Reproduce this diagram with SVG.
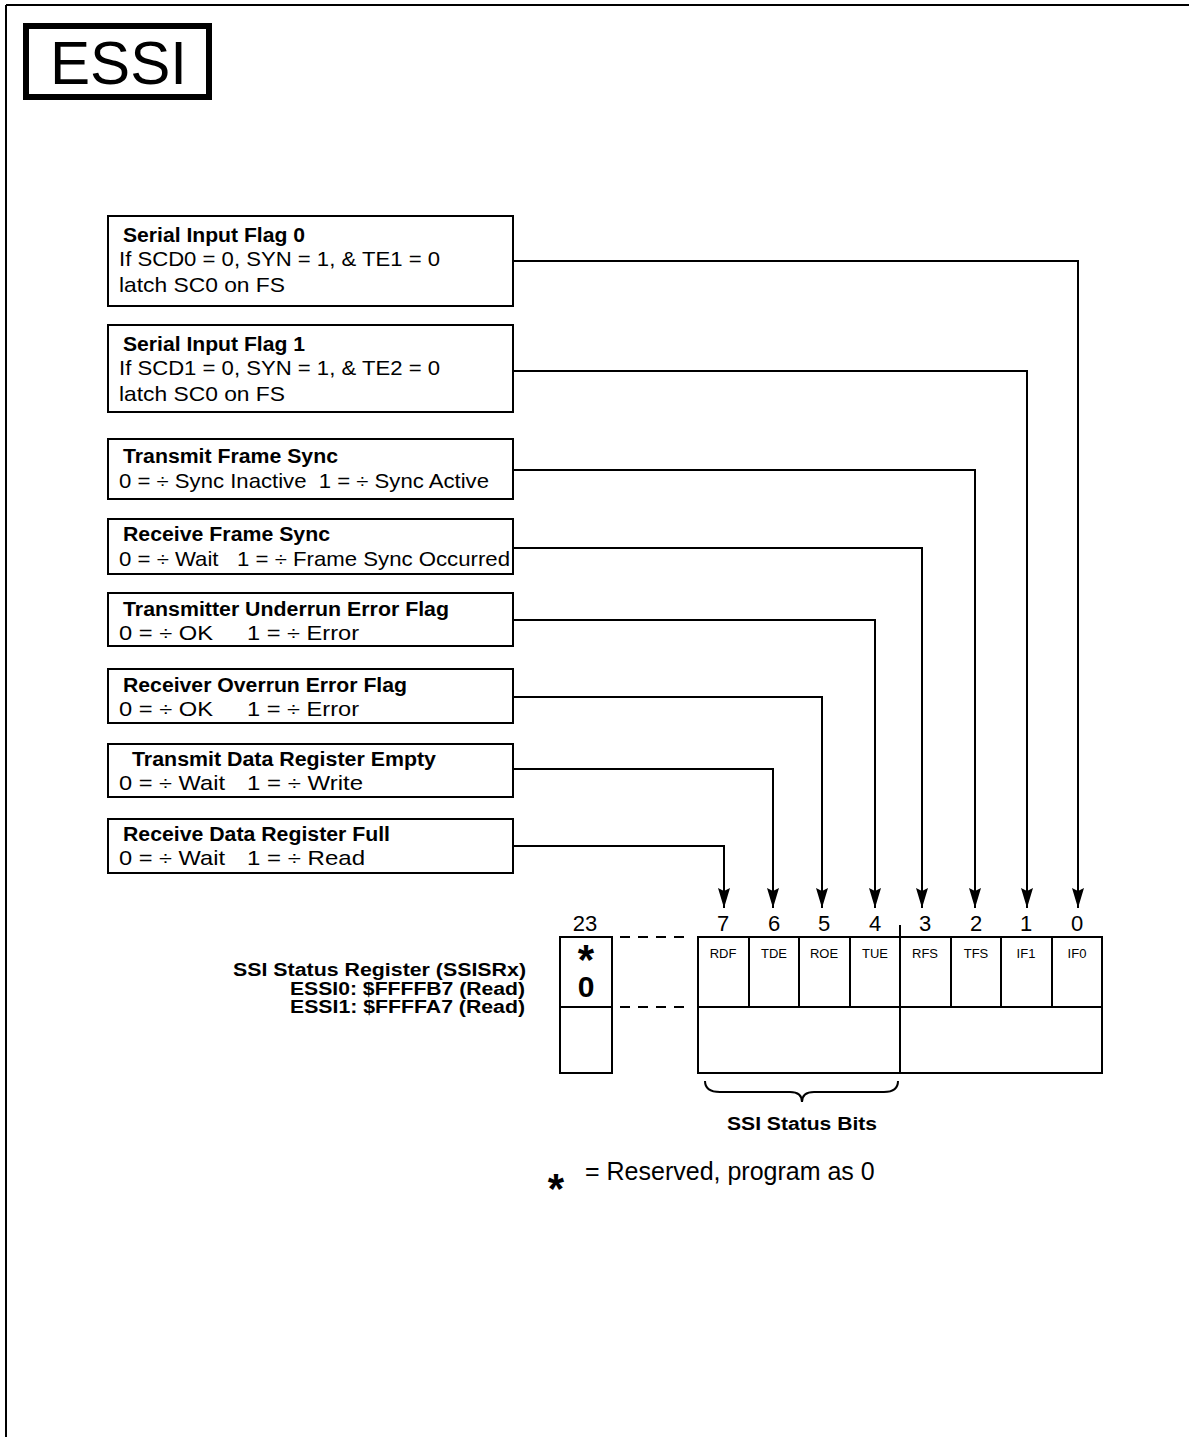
<svg xmlns="http://www.w3.org/2000/svg" width="1189" height="1437" viewBox="0 0 1189 1437">
<style>
text{font-family:"Liberation Sans",Arial,sans-serif;fill:#000}
.t{font-size:20px;font-weight:bold}
.b{font-size:21px;white-space:pre}
.box{fill:#fff;stroke:#000;stroke-width:2}
.ln{fill:none;stroke:#000;stroke-width:2}
.num{font-size:22px;text-anchor:middle}
.cell{font-size:13px;text-anchor:middle}
.lab{font-size:18px;font-weight:bold;text-anchor:end}
.ast{font-size:42px;font-weight:bold;text-anchor:middle}
</style>
<defs>
<marker id="ah" viewBox="0 0 20 12" refX="20" refY="6" markerWidth="20" markerHeight="12" markerUnits="userSpaceOnUse" orient="auto">
<path d="M0,0 L20,6 L0,12 L3,6 Z" fill="#000"/>
</marker>
</defs>
<rect width="1189" height="1437" fill="#fff"/>
<g id="frame">
<line x1="6" y1="5" x2="1189" y2="5" class="ln"/>
<line x1="6" y1="5" x2="6" y2="1437" class="ln"/>
</g>
<g id="title">
<rect x="26" y="26" width="183" height="71" fill="#fff" stroke="#000" stroke-width="6"/>
<text x="50" y="84" font-size="62" textLength="137" lengthAdjust="spacingAndGlyphs">ESSI</text>
</g>
<g id="connectors">
<path class="ln" d="M513,261 H1078 V908" marker-end="url(#ah)"/>
<path class="ln" d="M513,371 H1027 V908" marker-end="url(#ah)"/>
<path class="ln" d="M513,470 H975 V908" marker-end="url(#ah)"/>
<path class="ln" d="M513,548 H922 V908" marker-end="url(#ah)"/>
<path class="ln" d="M513,620 H875 V908" marker-end="url(#ah)"/>
<path class="ln" d="M513,697 H822 V908" marker-end="url(#ah)"/>
<path class="ln" d="M513,769 H773 V908" marker-end="url(#ah)"/>
<path class="ln" d="M513,846 H724 V908" marker-end="url(#ah)"/>
</g>
<g id="if0">
<rect class="box" x="108" y="216" width="405" height="90"/>
<text class="t" x="123" y="242" textLength="182" lengthAdjust="spacingAndGlyphs">Serial Input Flag 0</text>
<text class="b" x="119" y="266" textLength="321" lengthAdjust="spacingAndGlyphs">If SCD0 = 0, SYN = 1, &amp; TE1 = 0</text>
<text class="b" x="119" y="292" textLength="166" lengthAdjust="spacingAndGlyphs">latch SC0 on FS</text>
</g>
<g id="if1">
<rect class="box" x="108" y="325" width="405" height="87"/>
<text class="t" x="123" y="351" textLength="182" lengthAdjust="spacingAndGlyphs">Serial Input Flag 1</text>
<text class="b" x="119" y="375" textLength="321" lengthAdjust="spacingAndGlyphs">If SCD1 = 0, SYN = 1, &amp; TE2 = 0</text>
<text class="b" x="119" y="401" textLength="166" lengthAdjust="spacingAndGlyphs">latch SC0 on FS</text>
</g>
<g id="tfs">
<rect class="box" x="108" y="439" width="405" height="60"/>
<text class="t" x="123" y="463" textLength="215" lengthAdjust="spacingAndGlyphs">Transmit Frame Sync</text>
<text class="b" x="119" y="488" xml:space="preserve" textLength="370" lengthAdjust="spacingAndGlyphs">0 = ÷ Sync Inactive  1 = ÷ Sync Active</text>
</g>
<g id="rfs">
<rect class="box" x="108" y="519" width="405" height="55"/>
<text class="t" x="123" y="541" textLength="207" lengthAdjust="spacingAndGlyphs">Receive Frame Sync</text>
<text class="b" x="119" y="566" xml:space="preserve" textLength="391" lengthAdjust="spacingAndGlyphs">0 = ÷ Wait   1 = ÷ Frame Sync Occurred</text>
</g>
<g id="tue">
<rect class="box" x="108" y="593" width="405" height="53"/>
<text class="t" x="123" y="616" textLength="326" lengthAdjust="spacingAndGlyphs">Transmitter Underrun Error Flag</text>
<text class="b" x="119" y="640" textLength="94" lengthAdjust="spacingAndGlyphs">0 = ÷ OK</text>
<text class="b" x="247" y="640" textLength="112" lengthAdjust="spacingAndGlyphs">1 = ÷ Error</text>
</g>
<g id="roe">
<rect class="box" x="108" y="669" width="405" height="54"/>
<text class="t" x="123" y="692" textLength="284" lengthAdjust="spacingAndGlyphs">Receiver Overrun Error Flag</text>
<text class="b" x="119" y="716" textLength="94" lengthAdjust="spacingAndGlyphs">0 = ÷ OK</text>
<text class="b" x="247" y="716" textLength="112" lengthAdjust="spacingAndGlyphs">1 = ÷ Error</text>
</g>
<g id="tde">
<rect class="box" x="108" y="744" width="405" height="53"/>
<text class="t" x="132" y="766" textLength="304" lengthAdjust="spacingAndGlyphs">Transmit Data Register Empty</text>
<text class="b" x="119" y="790" textLength="106" lengthAdjust="spacingAndGlyphs">0 = ÷ Wait</text>
<text class="b" x="247" y="790" textLength="116" lengthAdjust="spacingAndGlyphs">1 = ÷ Write</text>
</g>
<g id="rdf">
<rect class="box" x="108" y="819" width="405" height="54"/>
<text class="t" x="123" y="841" textLength="267" lengthAdjust="spacingAndGlyphs">Receive Data Register Full</text>
<text class="b" x="119" y="865" textLength="106" lengthAdjust="spacingAndGlyphs">0 = ÷ Wait</text>
<text class="b" x="247" y="865" textLength="118" lengthAdjust="spacingAndGlyphs">1 = ÷ Read</text>
</g>
<g id="register">
<text class="lab" x="526" y="976" textLength="293" lengthAdjust="spacingAndGlyphs">SSI Status Register (SSISRx)</text>
<text class="lab" x="525" y="995" textLength="235" lengthAdjust="spacingAndGlyphs">ESSI0: $FFFFB7 (Read)</text>
<text class="lab" x="525" y="1013" textLength="235" lengthAdjust="spacingAndGlyphs">ESSI1: $FFFFA7 (Read)</text>
<text class="num" x="585" y="931">23</text>
<rect class="box" x="560" y="937" width="52" height="136"/>
<line class="ln" x1="560" y1="1007" x2="612" y2="1007"/>
<text font-weight="bold" text-anchor="middle"><tspan x="586" y="974" font-size="42">*</tspan><tspan x="586" y="997" font-size="30">0</tspan></text>
<line x1="620" y1="937" x2="690" y2="937" stroke="#000" stroke-width="2" stroke-dasharray="10,8"/>
<line x1="620" y1="1007" x2="690" y2="1007" stroke="#000" stroke-width="2" stroke-dasharray="10,8"/>
<rect class="box" x="698" y="937" width="404" height="136"/>
<line class="ln" x1="698" y1="1007" x2="1102" y2="1007"/>
<line class="ln" x1="749" y1="937" x2="749" y2="1007"/>
<line class="ln" x1="799" y1="937" x2="799" y2="1007"/>
<line class="ln" x1="850" y1="937" x2="850" y2="1007"/>
<line class="ln" x1="900" y1="925" x2="900" y2="1073"/>
<line class="ln" x1="951" y1="937" x2="951" y2="1007"/>
<line class="ln" x1="1001" y1="937" x2="1001" y2="1007"/>
<line class="ln" x1="1052" y1="937" x2="1052" y2="1007"/>
<text class="num" x="723" y="931">7</text>
<text class="num" x="774" y="931">6</text>
<text class="num" x="824" y="931">5</text>
<text class="num" x="875" y="931">4</text>
<text class="num" x="925" y="931">3</text>
<text class="num" x="976" y="931">2</text>
<text class="num" x="1026" y="931">1</text>
<text class="num" x="1077" y="931">0</text>
<text class="cell" x="723" y="958">RDF</text>
<text class="cell" x="774" y="958">TDE</text>
<text class="cell" x="824" y="958">ROE</text>
<text class="cell" x="875" y="958">TUE</text>
<text class="cell" x="925" y="958">RFS</text>
<text class="cell" x="976" y="958">TFS</text>
<text class="cell" x="1026" y="958">IF1</text>
<text class="cell" x="1077" y="958">IF0</text>
</g>
<g id="brace">
<path class="ln" d="M705,1081 Q705,1092 720,1092 H790 Q802,1092 802,1102 Q802,1092 814,1092 H884 Q898,1092 898,1081"/>
<text x="802" y="1130" font-size="18" font-weight="bold" text-anchor="middle" textLength="150" lengthAdjust="spacingAndGlyphs">SSI Status Bits</text>
</g>
<g id="note">
<text class="ast" x="556" y="1203">*</text>
<text x="585" y="1180" font-size="25">= Reserved, program as 0</text>
</g>
</svg>
